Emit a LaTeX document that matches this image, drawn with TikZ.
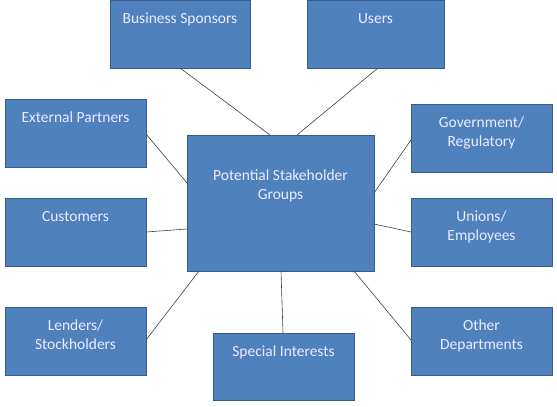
\documentclass[tikz,border=0pt]{standalone}
\usepackage{fontspec}
\setmainfont{Carlito}
\definecolor{boxfill}{HTML}{4F81BD}
\definecolor{boxline}{HTML}{385D8A}
\definecolor{linkc}{HTML}{404040}
\begin{document}
\begin{tikzpicture}[x=1pt,y=-1pt,
  sbox/.style={draw=boxline, line width=0.8pt, fill=boxfill, inner sep=0pt, outer sep=0pt},
  stext/.style={text=white!92!blue, align=center, font=\fontsize{15.5}{19}\selectfont, anchor=north, inner sep=0pt},
  link/.style={draw=linkc, line width=0.6pt}]
\useasboundingbox (0,0) rectangle (557,407);
\newcommand{\mybox}[6]{%
  \node[sbox, minimum width=#4-#2, minimum height=#5-#3, anchor=north west] (#1) at (#2,#3) {};
  \node[stext] (#1t) at ({(#2+#4)/2},#3+13) {#6};}
\mybox{bs}{110}{0}{250}{68}{Business Sponsors}
\mybox{us}{307}{0}{444}{68}{Users}
\mybox{ep}{5}{99}{146}{167}{External Partners}
\mybox{cu}{5}{198}{146}{266}{Customers}
\mybox{go}{411}{104}{552}{172}{Government/\\Regulatory}
\mybox{un}{411}{198}{552}{266}{Unions/\\Employees}
\mybox{le}{5}{307}{146}{375}{Lenders/\\Stockholders}
\mybox{sp}{213}{333}{354}{400}{Special Interests}
\mybox{ot}{411}{307}{552}{375}{Other\\Departments}
\node[sbox, minimum width=187, minimum height=136, anchor=north west] (c) at (187,135) {};
\node[stext] (ct) at (280.5,170) {Potential Stakeholder\\Groups};
% connectors
\draw[link] ([xshift=70]bs.south west) -- ([xshift=83]c.north west);
\draw[link] ([xshift=71]us.south west) -- ([xshift=110]c.north west);
\draw[link] ([yshift=-35]ep.north east) -- ([yshift=-48]c.north west);
\draw[link] ([yshift=-34]cu.north east) -- ([yshift=-94]c.north west);
\draw[link] ([yshift=-36]go.north west) -- ([yshift=-58]c.north east);
\draw[link] ([yshift=-34]un.north west) -- ([yshift=-89]c.north east);
\draw[link] ([yshift=-33]le.north east) -- ([xshift=12]c.south west);
\draw[link] ([xshift=70]sp.north west) -- ([xshift=94]c.south west);
\draw[link] ([yshift=-33]ot.north west) -- ([xshift=-20]c.south east);
\end{tikzpicture}
\end{document}
